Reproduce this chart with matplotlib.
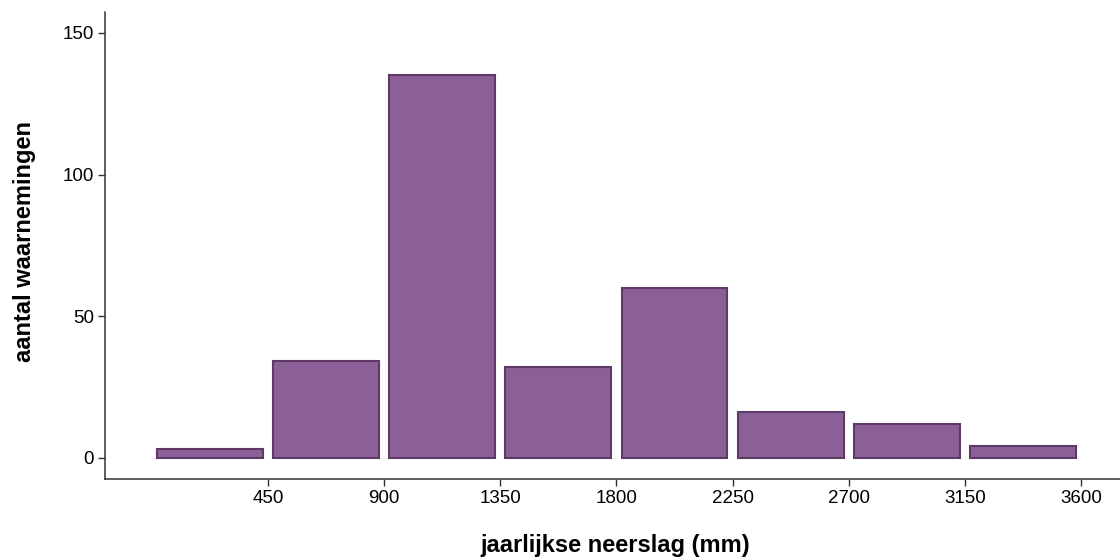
import matplotlib
matplotlib.use("Agg")
import matplotlib.pyplot as plt
import numpy as np

plt.rcParams["font.family"] = ["Liberation Sans", "DejaVu Sans"]

# histogram bins (mm) and counts
bin_starts = [0, 450, 900, 1350, 1800, 2250, 2700, 3150]
counts     = [3, 34, 135, 32, 60, 16, 12, 4]
xticks     = [450, 900, 1350, 1800, 2250, 2700, 3150, 3600]
yticks     = [0, 50, 100, 150]

fig = plt.figure(figsize=(11.2, 5.6), dpi=100)
ax = fig.add_axes([0.094, 0.145, 0.906, 0.834])

centers = np.array(bin_starts) + 225
ax.bar(centers, counts, width=410, color="#8b6096", edgecolor="#5e3a66",
       linewidth=1.5)

ax.set_xlim(-180, 3751)
ax.set_ylim(-7.5, 157.5)
ax.set_xticks(xticks)
ax.set_yticks(yticks)
ax.tick_params(labelsize=13.5, colors="#333333", length=5, width=1,
               labelcolor="black", pad=3)
for s in ["top", "right"]:
    ax.spines[s].set_visible(False)
for s in ["left", "bottom"]:
    ax.spines[s].set_color("#333333")
    ax.spines[s].set_linewidth(1.1)

ax.set_xlabel("jaarlijkse neerslag (mm)", fontsize=17, fontweight="bold",
              va="center")
ax.set_ylabel("aantal waarnemingen", fontsize=17, fontweight="bold",
              va="center")
ax.xaxis.set_label_coords(0.503, -0.142)
ax.yaxis.set_label_coords(-0.080, 0.509)

fig.savefig("out.png", dpi=100)
